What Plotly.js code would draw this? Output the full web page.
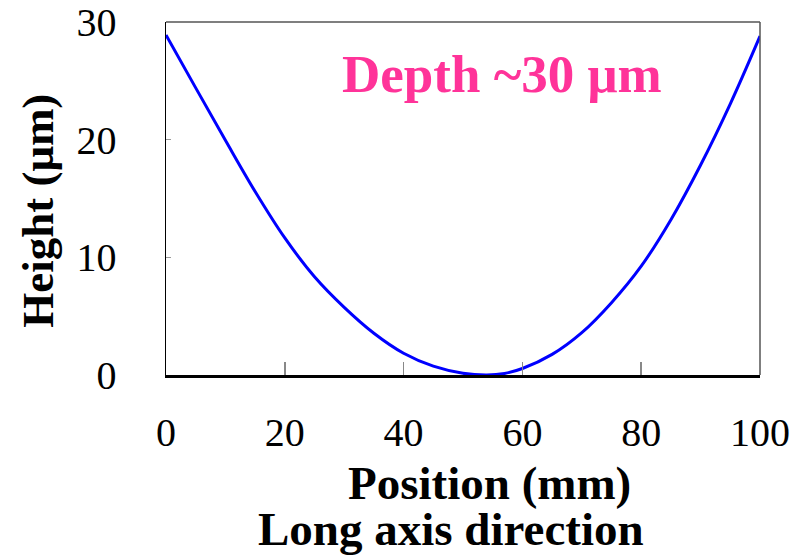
<!DOCTYPE html>
<html>
<head>
<meta charset="utf-8">
<script src="https://cdn.plot.ly/plotly-3.0.1.min.js"></script>
<style>html,body{margin:0;padding:0;background:#fff;}#chart{width:808px;height:556px;}</style>
</head>
<body>
<div id="chart"></div>
<script>
const position = [0, 5, 10, 15, 20, 25, 30, 35, 40, 45, 50, 54, 57, 60, 65, 70, 75, 80, 85, 90, 95, 100];
const height = [28.9, 24.4, 19.95, 15.6, 11.65, 8.35, 5.75, 3.55, 1.85, 0.75, 0.15, 0.0, 0.13, 0.55, 1.75, 3.6, 6.15, 9.25, 13.2, 17.85, 23.05, 28.8];
const xTicks = [0, 20, 40, 60, 80, 100];
const yTicks = [0, 10, 20, 30];
const xTitle = "Position (mm)";
const xSubtitle = "Long axis direction";
const yTitle = "Height (μm)";
const note = "Depth ~30 μm";

const serif = "Liberation Serif, Times New Roman, serif";

const trace = {
  x: position, y: height, type: "scatter", mode: "lines",
  line: {color: "#0000FF", width: 3, shape: "spline", smoothing: 1},
  hoverinfo: "skip"
};

const layout = {
  width: 808, height: 556,
  margin: {l: 166, r: 48, t: 22, b: 181},
  paper_bgcolor: "#fff", plot_bgcolor: "#fff",
  showlegend: false,
  font: {family: serif, color: "#000"},
  xaxis: {
    range: [0, 100], tickvals: xTicks, ticktext: xTicks.map(String),
    ticks: "inside", ticklen: 13, tickwidth: 1.5, tickcolor: "#888",
    showgrid: false, zeroline: false,
    showline: true, linecolor: "#000", linewidth: 2.5,
    tickfont: {family: serif, size: 40, color: "#000"},
    ticklabelstandoff: 20
  },
  yaxis: {
    range: [0, 30], tickvals: yTicks, ticktext: yTicks.map(String),
    ticks: "inside", ticklen: 5, tickwidth: 1.5, tickcolor: "#999",
    showgrid: false, zeroline: false,
    showline: true, linecolor: "#000", linewidth: 1.5,
    tickfont: {family: serif, size: 40, color: "#000"},
    ticklabelstandoff: 40
  },
  shapes: [
    {type: "line", xref: "paper", yref: "paper", x0: 0, x1: 1, y0: 1, y1: 1, line: {color: "#555", width: 1.5}},
    {type: "line", xref: "paper", yref: "paper", x0: 1, x1: 1, y0: 0, y1: 1, line: {color: "#555", width: 1.5}}
  ],
  annotations: [
    {text: "<b>" + note + "</b>", xref: "x", yref: "paper", x: 56.5, y: 0.852, xanchor: "center", yanchor: "middle",
     showarrow: false, font: {family: serif, size: 53, color: "#FF3399"}},
    {text: "<b>" + xTitle + "</b>", xref: "x", yref: "paper", x: 54.4, y: -0.306, xanchor: "center", yanchor: "middle",
     showarrow: false, font: {family: serif, size: 47, color: "#000"}},
    {text: "<b>" + xSubtitle + "</b>", xref: "x", yref: "paper", x: 48.0, y: -0.435, xanchor: "center", yanchor: "middle",
     showarrow: false, font: {family: serif, size: 47, color: "#000"}},
    {text: "<b>" + yTitle + "</b>", xref: "paper", yref: "paper", x: -0.2155, y: 0.465, xanchor: "center", yanchor: "middle",
     textangle: -90, showarrow: false, font: {family: serif, size: 45, color: "#000"}}
  ]
};

Plotly.newPlot("chart", [trace], layout, {staticPlot: true, displayModeBar: false});
</script>
</body>
</html>
